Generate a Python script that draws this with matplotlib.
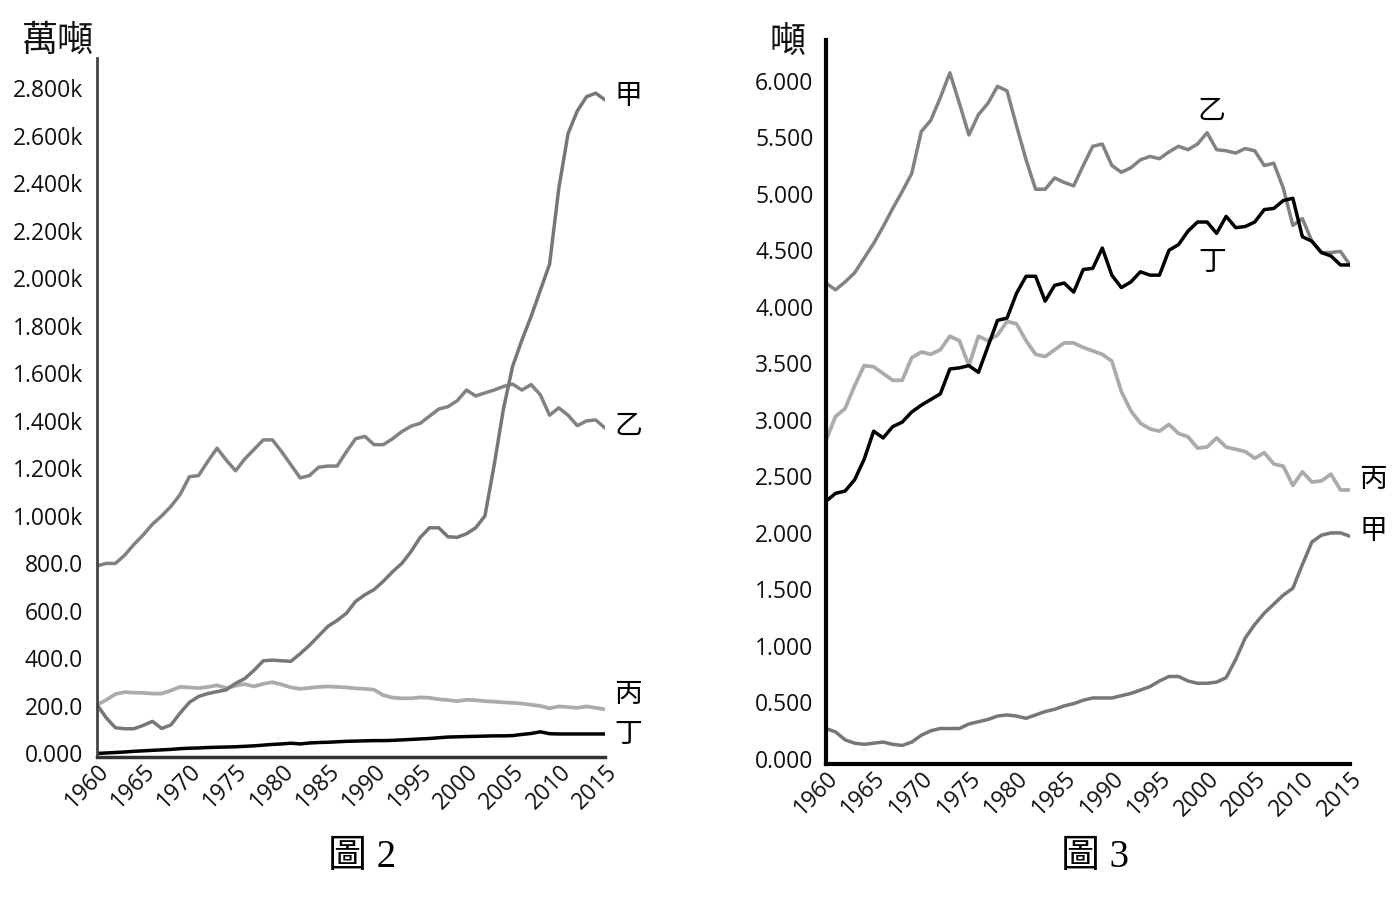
import matplotlib
matplotlib.use("Agg")
import matplotlib.pyplot as plt
from matplotlib.ticker import FixedLocator

plt.rcParams['font.family'] = ['Open Sans', 'Noto Sans CJK TC', 'DejaVu Sans']

years = list(range(1960, 2016))

# 圖2 (萬噸)
fig2_jia = [205, 150, 108, 104, 104, 118, 135, 105, 120, 170,
            215, 240, 252, 260, 268, 295, 315, 350, 390, 393,
            390, 388, 420, 455, 495, 535, 560, 590, 640, 668,
            690, 725, 765, 800, 850, 910, 950, 950, 912, 910,
            925, 950, 1000, 1214, 1450, 1630, 1740, 1840, 1950, 2060,
            2380, 2610, 2705, 2765, 2780, 2752]
fig2_yi = [790, 800, 800, 835, 880, 920, 965, 1000, 1040, 1090,
           1165, 1170, 1230, 1285, 1235, 1190, 1240, 1280, 1320, 1320,
           1270, 1215, 1160, 1170, 1205, 1210, 1210, 1270, 1325, 1335,
           1300, 1300, 1325, 1355, 1378, 1390, 1420, 1450, 1460, 1485,
           1530, 1505, 1518, 1530, 1545, 1555, 1530, 1553, 1510, 1424,
           1455, 1424, 1380, 1400, 1404, 1370]
fig2_bing = [205, 225, 250, 258, 256, 255, 252, 252, 265, 280,
             278, 275, 280, 287, 275, 285, 292, 282, 293, 300,
             290, 278, 272, 276, 280, 282, 280, 278, 274, 272,
             268, 245, 235, 232, 232, 236, 234, 228, 225, 220,
             226, 224, 220, 218, 215, 213, 210, 205, 200, 190,
             198, 195, 192, 198, 192, 186]
fig2_ding = [0, 2, 4, 6, 9, 11, 13, 15, 17, 20,
             22, 23, 25, 26, 27, 28, 30, 32, 35, 38,
             40, 43, 40, 44, 46, 47, 49, 51, 52, 53,
             54, 54, 55, 57, 59, 61, 63, 66, 69, 70,
             71, 72, 73, 74, 74, 75, 80, 84, 91, 83,
             82, 82, 82, 82, 82, 82]
fig2_ticks = [0, 200, 400, 600, 800, 1000, 1200, 1400, 1600, 1800, 2000, 2200, 2400, 2600, 2800]
fig2_ticklabels = ['0.000', '200.0', '400.0', '600.0', '800.0', '1.000k', '1.200k', '1.400k',
                   '1.600k', '1.800k', '2.000k', '2.200k', '2.400k', '2.600k', '2.800k']

# 圖3 (噸)
fig3_jia = [0.27, 0.24, 0.17, 0.14, 0.13, 0.14, 0.15, 0.13, 0.12, 0.15,
            0.21, 0.25, 0.27, 0.27, 0.27, 0.31, 0.33, 0.35, 0.38, 0.39,
            0.38, 0.36, 0.39, 0.42, 0.44, 0.47, 0.49, 0.52, 0.54, 0.54,
            0.54, 0.56, 0.58, 0.61, 0.64, 0.69, 0.73, 0.73, 0.69, 0.67,
            0.67, 0.68, 0.72, 0.88, 1.07, 1.19, 1.29, 1.37, 1.45, 1.51,
            1.72, 1.92, 1.98, 2.00, 2.00, 1.97]
fig3_yi = [4.21, 4.15, 4.22, 4.30, 4.43, 4.56, 4.71, 4.87, 5.02, 5.18,
           5.55, 5.65, 5.85, 6.07, 5.80, 5.52, 5.70, 5.80, 5.95, 5.91,
           5.60, 5.30, 5.04, 5.04, 5.14, 5.10, 5.07, 5.25, 5.42, 5.44,
           5.25, 5.19, 5.23, 5.30, 5.33, 5.31, 5.37, 5.42, 5.39, 5.44,
           5.54, 5.39, 5.38, 5.36, 5.40, 5.38, 5.25, 5.27, 5.05, 4.72,
           4.78, 4.58, 4.48, 4.48, 4.49, 4.37]
fig3_bing = [2.82, 3.03, 3.10, 3.30, 3.48, 3.47, 3.41, 3.35, 3.35, 3.55,
             3.60, 3.58, 3.62, 3.74, 3.70, 3.48, 3.74, 3.70, 3.75, 3.87,
             3.85, 3.70, 3.58, 3.56, 3.62, 3.68, 3.68, 3.64, 3.61, 3.58,
             3.52, 3.25, 3.08, 2.97, 2.92, 2.90, 2.96, 2.88, 2.85, 2.75,
             2.76, 2.84, 2.76, 2.74, 2.72, 2.66, 2.71, 2.61, 2.59, 2.42,
             2.54, 2.45, 2.46, 2.52, 2.38, 2.38]
fig3_ding = [2.28, 2.35, 2.37, 2.47, 2.65, 2.90, 2.84, 2.94, 2.98, 3.07,
             3.13, 3.18, 3.23, 3.45, 3.46, 3.48, 3.42, 3.65, 3.88, 3.90,
             4.12, 4.27, 4.27, 4.05, 4.19, 4.21, 4.13, 4.33, 4.34, 4.52,
             4.28, 4.17, 4.22, 4.31, 4.28, 4.28, 4.50, 4.55, 4.67, 4.75,
             4.75, 4.65, 4.80, 4.70, 4.71, 4.75, 4.86, 4.87, 4.94, 4.96,
             4.62, 4.58, 4.48, 4.45, 4.37, 4.37]
fig3_ticks = [0, 0.5, 1, 1.5, 2, 2.5, 3, 3.5, 4, 4.5, 5, 5.5, 6]
fig3_ticklabels = ['0.000', '0.500', '1.000', '1.500', '2.000', '2.500', '3.000',
                   '3.500', '4.000', '4.500', '5.000', '5.500', '6.000']

year_ticks = list(range(1960, 2016, 5))

c_jia = '#777777'
c_yi = '#828282'
c_bing = '#ababab'
c_ding = '#000000'
cjk = ['Noto Sans CJK TC']
cap = ['Liberation Serif', 'Noto Sans CJK TC']

fig = plt.figure(figsize=(14, 9.02), dpi=100)

# ---- 圖2 ----
ax1 = fig.add_axes([97 / 1400, 1 - 757 / 902, 508 / 1400, 699 / 902])
ax1.plot(years, fig2_bing, color=c_bing, lw=2.7, solid_capstyle='round')
ax1.plot(years, fig2_yi, color=c_yi, lw=2.5, solid_capstyle='round')
ax1.plot(years, fig2_jia, color=c_jia, lw=2.5, solid_capstyle='round')
ax1.plot(years, fig2_ding, color=c_ding, lw=2.5, solid_capstyle='round')
ax1.set_xlim(1960, 2015)
ax1.set_ylim(-15, 2928)
ax1.yaxis.set_major_locator(FixedLocator(fig2_ticks))
ax1.set_yticklabels(fig2_ticklabels)
ax1.set_xticks(year_ticks)
ax1.set_xticklabels([str(y) for y in year_ticks], rotation=45, ha='right', va='top',
                    rotation_mode='anchor')
ax1.tick_params(axis='y', length=0, pad=10, labelsize=16.5, colors='#111111')
ax1.tick_params(axis='x', length=0, pad=2, labelsize=16.5, colors='#111111')
for s in ['top', 'right']:
    ax1.spines[s].set_visible(False)
ax1.spines['left'].set_color('#444444')
ax1.spines['left'].set_linewidth(2)
ax1.spines['bottom'].set_color('#333333')
ax1.spines['bottom'].set_linewidth(2.5)
fig.text(58 / 1400, 1 - 41 / 902, '萬噸', fontsize=26, family=cjk,
         ha='center', va='center', color='#111111')
ax1.text(2016, 2770, '甲', fontsize=20, family=cjk, va='center', ha='left')
ax1.text(2016, 1380, '乙', fontsize=20, family=cjk, va='center', ha='left')
ax1.text(2016, 250, '丙', fontsize=20, family=cjk, va='center', ha='left')
ax1.text(2016, 80, '丁', fontsize=20, family=cjk, va='center', ha='left')
fig.text(362 / 1400, 1 - 857 / 902, '圖 2', fontsize=28, family=cap, ha='center', va='center')

# ---- 圖3 ----
ax2 = fig.add_axes([826 / 1400, 1 - 764 / 902, 524 / 1400, 724 / 902])
ax2.plot(years, fig3_bing, color=c_bing, lw=2.7, solid_capstyle='round')
ax2.plot(years, fig3_yi, color=c_yi, lw=2.5, solid_capstyle='round')
ax2.plot(years, fig3_jia, color=c_jia, lw=2.5, solid_capstyle='round')
ax2.plot(years, fig3_ding, color=c_ding, lw=2.5, solid_capstyle='round')
ax2.set_xlim(1960, 2015)
ax2.set_ylim(-0.044, 6.36)
ax2.yaxis.set_major_locator(FixedLocator(fig3_ticks))
ax2.set_yticklabels(fig3_ticklabels)
ax2.set_xticks(year_ticks)
ax2.set_xticklabels([str(y) for y in year_ticks], rotation=45, ha='right', va='top',
                    rotation_mode='anchor')
ax2.tick_params(axis='y', length=0, pad=9, labelsize=16.5, colors='#111111')
ax2.tick_params(axis='x', length=0, pad=2, labelsize=16.5, colors='#111111')
for s in ['top', 'right']:
    ax2.spines[s].set_visible(False)
ax2.spines['left'].set_color('#000000')
ax2.spines['left'].set_linewidth(3)
ax2.spines['bottom'].set_color('#000000')
ax2.spines['bottom'].set_linewidth(3)
fig.text(788 / 1400, 1 - 42 / 902, '噸', fontsize=26, family=cjk,
         ha='center', va='center', color='#111111')
ax2.text(2000.5, 5.73, '乙', fontsize=20, family=cjk, va='center', ha='center')
ax2.text(2000.5, 4.40, '丁', fontsize=20, family=cjk, va='center', ha='center')
ax2.text(2016, 2.48, '丙', fontsize=20, family=cjk, va='center', ha='left')
ax2.text(2016, 2.02, '甲', fontsize=20, family=cjk, va='center', ha='left')
fig.text(1095 / 1400, 1 - 857 / 902, '圖 3', fontsize=28, family=cap, ha='center', va='center')

fig.savefig('out.png', dpi=100, facecolor='white')
